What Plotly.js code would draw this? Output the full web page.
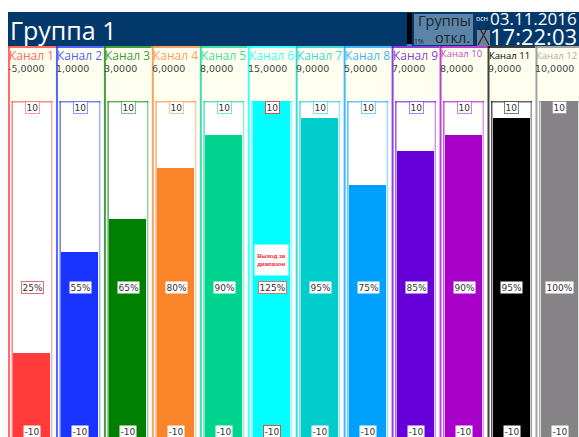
<!DOCTYPE html>
<html><head><meta charset="utf-8">
<script src="https://cdn.plot.ly/plotly-3.0.0.min.js"></script>
<style>html,body{margin:0;padding:0;background:#fff;overflow:hidden}#c{width:579px;height:437px}</style>
</head><body><div id="c"></div>
<script>
const channels=["Канал 1","Канал 2","Канал 3","Канал 4","Канал 5","Канал 6","Канал 7","Канал 8","Канал 9","Канал 10","Канал 11","Канал 12"];
const readings=["-5,0000","1,0000","3,0000","6,0000","8,0000","15,0000","9,0000","5,0000","7,0000","8,0000","9,0000","10,0000"];
const percents=[25,55,65,80,90,125,95,75,85,90,95,100];
const colors=["#ff3b3b","#1a34ff","#008000","#fa842a","#00d48e","#00ffff","#00cccc","#00a0ff","#6600d9","#a800c8","#000000","#858385"];
const scaleTop="10", scaleBottom="-10";
const groupTitle="Группа 1", dateText="03.11.2016", timeText="17:22:03";

const W=579,H=437,top0=101,pitch=47.95,left0=8;
const idx=channels.map((_,i)=>i);
const py=p=>(H-p)/(H-top0);
const px=p=>p/W;
const rgba=(hex,a)=>{const n=parseInt(hex.slice(1),16);return `rgba(${n>>16},${(n>>8)&255},${n&255},${a})`;};
const shapes=[],ann=[];
const rectP=(x0,y0,x1,y1,fill)=>shapes.push({type:'rect',xref:'paper',yref:'paper',x0:px(x0),x1:px(x1),y0:py(y1),y1:py(y0),fillcolor:fill,line:{width:0},layer:'below'});
const textP=(x,y,t,size,color,anchor,family)=>ann.push({xref:'paper',yref:'paper',x:px(x),y:py(y),text:t,showarrow:false,xanchor:anchor||'left',yanchor:'middle',font:{family:family||'Open Sans',size:size,color:color},borderpad:0});

// header
rectP(8,12,579,46,'#03386b');
rectP(407,13,412,46,'#000000'); rectP(407,44,412,46,'#2f8fd8');
rectP(414,14,473,45,'#5c84a8');
rectP(477,30,490,46,'#6d8298');
shapes.push({type:'line',xref:'paper',yref:'paper',x0:px(478),x1:px(489),y0:py(45),y1:py(25),line:{color:'#1c2430',width:1.2},layer:'below'});
shapes.push({type:'line',xref:'paper',yref:'paper',x0:px(489),x1:px(478),y0:py(45),y1:py(25),line:{color:'#1c2430',width:1.2},layer:'below'});
textP(9,30,groupTitle,25,'#ffffff');
textP(417,21,'Группы',14.5,'#1b2530');
textP(471,37.5,'откл.',14.5,'#1b2530','right');
textP(413,42,'1%',7,'#1b2530');
textP(475,18,'осн',7,'#ffffff');
textP(578,18,dateText,17,'#ffffff','right');
textP(578,36.5,timeText,22,'#ffffff','right');

// columns
idx.forEach(i=>{
  const c=colors[i];
  const x0=i-0.5,x1=i+0.5;
  const r=(a,b,y0,y1,fill)=>shapes.push({type:'rect',xref:'x',yref:'paper',x0:a,x1:b,y0:py(y1),y1:py(y0),fillcolor:fill,line:{width:0},layer:'below'});
  r(x0,x1,46,101,'#fffff0');
  r(x0,x0+2/48,46,437,rgba(c,0.75));
  r(x0,x1,46,48,rgba(c,0.75));
  const f0=i-20.5/pitch,f1=i+20.5/pitch;
  r(f0,f0+1.5/pitch,101,437,rgba(c,0.65));
  r(f1-1.5/pitch,f1,101,437,rgba(c,0.4));
  r(f0,f1,101,102.5,rgba(c,0.6));
  ann.push({xref:'x',yref:'paper',x:i-0.5-1/pitch,y:py(i===9?53:55),text:channels[i],showarrow:false,xanchor:'left',yanchor:'middle',font:{family:'Open Sans',size:i>=9?9.5:12,color:i===11?'#aaaaaa':(i===10?'#000':rgba(c,0.8))}});
  ann.push({xref:'x',yref:'paper',x:i-0.5-2/pitch,y:py(69),text:readings[i],showarrow:false,xanchor:'left',yanchor:'middle',font:{family:'DejaVu Sans',size:9.5,color:'#444444'}});
  const box=(t,y,border)=>ann.push({xref:'x',yref:'paper',x:i+0.01,y:py(y),text:t,showarrow:false,xanchor:'center',yanchor:'middle',font:{family:'DejaVu Sans',size:9,color:'#333333'},bgcolor:'#ffffff',bordercolor:border,borderwidth:1,borderpad:0.5});
  box(scaleTop,107,i===5?'#d85050':rgba(c,0.5));
  box(percents[i]+'%',287,(i===5||i===0)?'#e07070':'rgba(255,255,255,0)');
  box(scaleBottom,431.5,i===5?'#d85050':'rgba(255,255,255,0)');
});
ann.push({xref:'x',yref:'paper',x:5,y:py(259.5),text:'<b>Выход за<br>диапазон</b>',showarrow:false,xanchor:'center',yanchor:'middle',align:'center',width:31,height:28,font:{family:'Liberation Sans',size:6,color:'#ff2030'},bgcolor:'#ffffff'});

const data=[{type:'bar',x:idx,y:percents,width:37/pitch,marker:{color:colors,line:{width:0}},hoverinfo:'skip'}];
const layout={width:W,height:H,margin:{l:0,r:0,t:top0,b:0,pad:0},paper_bgcolor:'#ffffff',plot_bgcolor:'rgba(0,0,0,0)',showlegend:false,
 xaxis:{range:[-0.5-left0/pitch,-0.5+(W-left0)/pitch],visible:false,fixedrange:true},
 yaxis:{range:[0,100],visible:false,fixedrange:true},shapes:shapes,annotations:ann,bargap:0};
Plotly.newPlot('c',data,layout,{displayModeBar:false,staticPlot:true});
</script></body></html>
